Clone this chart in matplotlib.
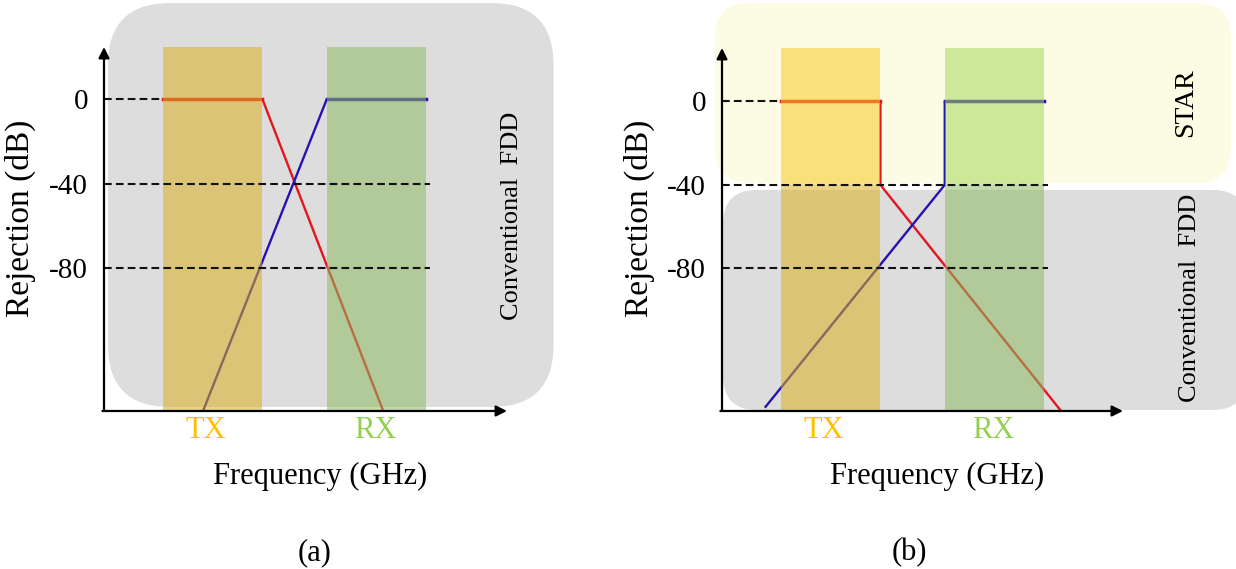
import matplotlib.pyplot as plt
from matplotlib.patches import FancyBboxPatch, Rectangle

plt.rcParams['font.family'] = ['Liberation Serif', 'DejaVu Serif']

# Полосы TX / RX (условные единицы частоты)
tx_band = [0.6, 1.6]
rx_band = [2.25, 3.25]
band_top = 26

# Деления по оси Y
y_ticks = [0, -40, -80]
y_tick_labels = ['0', '-40', '-80']
x_ticks = [1.03, 2.74]
x_tick_labels = ['TX', 'RX']

# (a) обычный FDD фильтр
a_tx_x = [0.6, 1.6, 2.82]
a_tx_y = [0, 0, -147.6]
a_rx_x = [3.25, 2.25, 1.0]
a_rx_y = [0, 0, -147.6]

# (b) STAR
b_tx_x = [0.6, 1.6, 1.6, 3.42]
b_tx_y = [0, 0, -40, -148]
b_rx_x = [3.25, 2.25, 2.25, 0.44]
b_rx_y = [0, 0, -40, -146.3]

# пунктир: уровень, конец по x
ref_levels = [0, -40, -80]
ref_ends = [0.6, 3.29, 3.29]

RED = '#E3161E'
BLUE = '#2612B0'
GRAY = '#DDDDDD'
CREAM = '#FCFCE4'


def rbox(ax, x0, x1, y0, y1, color, r_px, px_x, px_y):
    # скругленный фон в координатах данных
    p = FancyBboxPatch((x0, y0), x1 - x0, y1 - y0,
                       boxstyle=f'round,pad=0,rounding_size={r_px / px_x}',
                       mutation_aspect=px_x / px_y, fc=color, ec='none',
                       zorder=0, clip_on=False)
    ax.add_patch(p)


def setup(ax, xlim, ylim):
    ax.set_xlim(xlim)
    ax.set_ylim(ylim)
    ax.set_facecolor('none')
    for s in ax.spines.values():
        s.set_visible(False)
    ax.set_yticks(y_ticks)
    ax.set_yticklabels(y_tick_labels, fontsize=21)
    ax.set_xticks(x_ticks)
    ax.set_xticklabels(x_tick_labels, fontsize=22)
    ax.get_xticklabels()[0].set_color('#FFC000')
    ax.get_xticklabels()[1].set_color('#92D050')
    ax.tick_params(axis='y', length=0, pad=11.5)
    ax.tick_params(axis='x', length=0, pad=3.5)
    ax.set_xlabel('Frequency (GHz)', fontsize=22)
    ax.set_ylabel('Rejection (dB)', fontsize=24)
    ax.xaxis.set_label_coords(0.536, -0.14)
    ax.yaxis.set_label_coords(-0.168, 0.53)
    # оси со стрелками
    ax.annotate('', xy=(0, 1), xytext=(0, 0), xycoords='axes fraction',
                arrowprops=dict(arrowstyle='-|>', lw=1.6, color='k',
                                mutation_scale=16, shrinkA=0, shrinkB=0),
                zorder=6, annotation_clip=False)
    ax.annotate('', xy=(1, 0), xytext=(-0.004, 0), xycoords='axes fraction',
                arrowprops=dict(arrowstyle='-|>', lw=1.6, color='k',
                                mutation_scale=16, shrinkA=0, shrinkB=0),
                zorder=6, annotation_clip=False)
    for lvl, xe in zip(ref_levels, ref_ends):
        ax.plot([0, xe], [lvl, lvl], color='#111111', lw=1.5,
                ls=(0, (3.7, 2.0)), zorder=4)


fig = plt.figure(figsize=(12.36, 5.69), dpi=100)

# ---------- (a) ----------
ax1 = fig.add_axes([0.08414, 0.2777, 0.32605, 0.6397])
setup(ax1, (0, 4.07), (-147.6, 24.7))
rbox(ax1, 0.04, 4.54, -145.7, 45.5, GRAY, 62, 99, 2.1125)

ax1.plot(a_tx_x, a_tx_y, color=RED, lw=1.7, zorder=2)
ax1.plot(a_tx_x[:2], a_tx_y[:2], color=RED, lw=2.5, zorder=2)
ax1.plot(a_rx_x, a_rx_y, color=BLUE, lw=1.7, zorder=2)
ax1.plot(a_rx_x[:2], a_rx_y[:2], color=BLUE, lw=2.5, zorder=2)

ax1.add_patch(Rectangle((tx_band[0], -147.6), tx_band[1] - tx_band[0], band_top + 147.6,
                        fc='#DBB022', alpha=0.55, ec='none', zorder=3))
ax1.add_patch(Rectangle((rx_band[0], -147.6), rx_band[1] - rx_band[0], band_top + 147.6,
                        fc='#8FBA63', alpha=0.55, ec='none', zorder=3))

ax1.text(4.12, -55.3, 'Conventional  FDD', rotation=90, ha='center', va='center',
         fontsize=19)

# ---------- (b) ----------
ax2 = fig.add_axes([0.58414, 0.2777, 0.3244, 0.638])
setup(ax2, (0, 4.05), (-148.3, 25.6))
rbox(ax2, -0.07, 5.14, -39.0, 47.2, CREAM, 34, 99, 2.0875)
rbox(ax2, 0.01, 5.3, -147.8, -42.4, GRAY, 34, 99, 2.0875)

ax2.plot(b_tx_x, b_tx_y, color=RED, lw=1.7, zorder=2)
ax2.plot(b_tx_x[:2], b_tx_y[:2], color=RED, lw=2.5, zorder=2)
ax2.plot(b_rx_x, b_rx_y, color=BLUE, lw=1.7, zorder=2)
ax2.plot(b_rx_x[:2], b_rx_y[:2], color=BLUE, lw=2.5, zorder=2)

# полосы: верхняя часть на светлом фоне, нижняя на сером
for band, c_up, c_low in [(tx_band, '#FAC923', '#DBB022'), (rx_band, '#A7D85A', '#8FBA63')]:
    ax2.add_patch(Rectangle((band[0], -40), band[1] - band[0], band_top + 40,
                            fc=c_up, alpha=0.55, ec='none', zorder=3))
    ax2.add_patch(Rectangle((band[0], -148.3), band[1] - band[0], 148.3 - 40,
                            fc=c_low, alpha=0.55, ec='none', zorder=3))

ax2.text(4.68, -0.7, 'STAR', rotation=90, ha='center', va='center', fontsize=20)
ax2.text(4.73, -94.1, 'Conventional  FDD', rotation=90, ha='center', va='center',
         fontsize=19)

fig.text(0.2549, 0.028, '(a)', ha='center', va='center', fontsize=22)
fig.text(0.736, 0.028, '(b)', ha='center', va='center', fontsize=22)

fig.savefig('out.png', dpi=100)
